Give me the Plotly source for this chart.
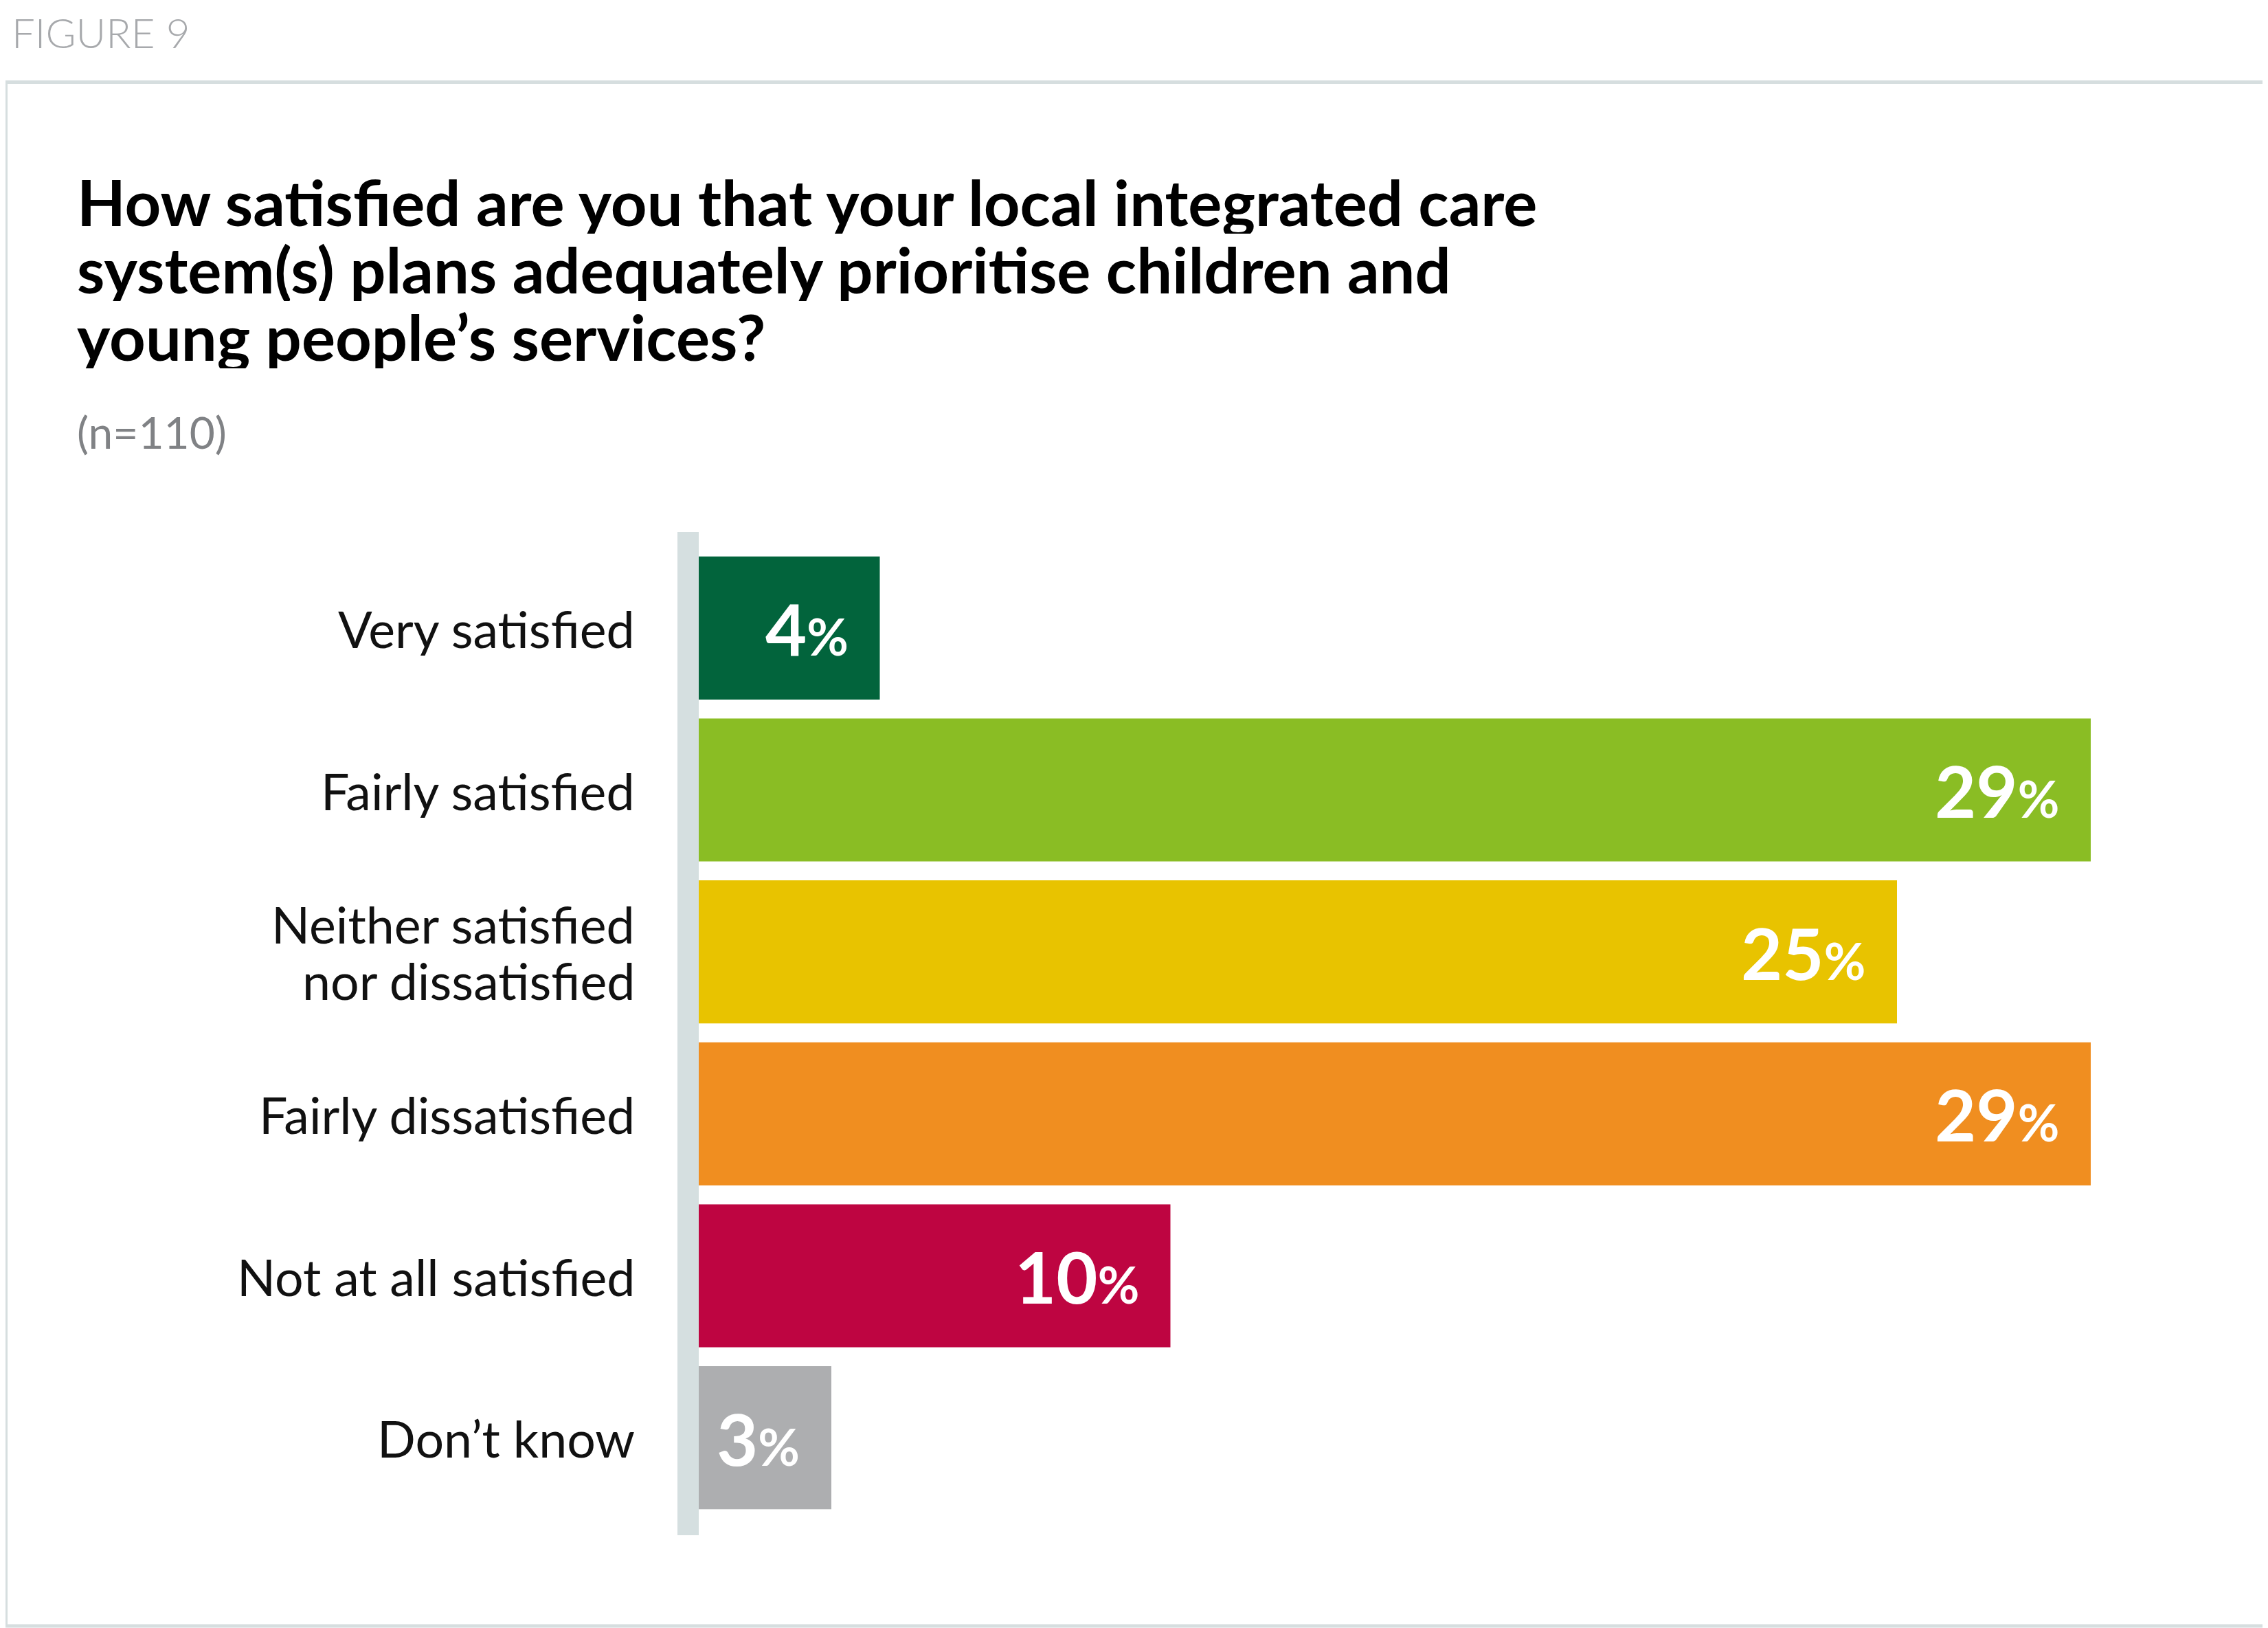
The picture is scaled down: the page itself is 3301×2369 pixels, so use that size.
import plotly.graph_objects as go

# data
categories = ["Very satisfied", "Fairly satisfied", "Neither satisfied<br>nor dissatisfied",
              "Fairly dissatisfied", "Not at all satisfied", "Don’t know"]
values = [4, 29, 25, 29, 10, 3]
bar_colors = ["#02643c", "#8abd24", "#e8c300", "#f08e20", "#be0541", "#adaeb0"]

title_lines = ["How satisfied are you that your local integrated care",
               "system(s) plans adequately prioritise children and",
               "young people’s services?"]
subtitle = "(n=110)"
figure_label = "FIGURE 9"

# page is 3301x2369, the browser puts the plot 8px in from the top/left
OFF = 8
W = 3301 - OFF
H = 2369 - OFF

def px(x):
    return (x - OFF) / W

def py(y):
    return 1 - (y - OFF) / H

FONT = "Lato, 'Open Sans', sans-serif"

figure = go.Figure()
figure.add_trace(go.Bar(
    x=values, y=categories, orientation="h",
    marker=dict(color=bar_colors, line=dict(width=0)),
    width=0.883, hoverinfo="skip"))

annotations = []

# value labels inside the bars
for cat, v in zip(categories, values):
    annotations.append(dict(
        x=v, y=cat, xref="x", yref="y", xanchor="right", yanchor="middle",
        xshift=-44, yshift=0, showarrow=False,
        text="<b>%d</b><span style='font-size:74px'><b>%%</b></span>" % v,
        font=dict(family=FONT, size=104, color="white")))

# category labels (multi line ones get tighter spacing)
for cat in categories:
    lines = cat.split("<br>")
    n = len(lines)
    for i, line in enumerate(lines):
        annotations.append(dict(
            x=0, y=cat, xref="x", yref="y", xanchor="right", yanchor="middle",
            xshift=-(998.5 - 926), yshift=(n - 1) * 41 - i * 82,
            showarrow=False, text=line, height=80, valign="middle",
            font=dict(family=FONT, size=73.5, color="#111111")))

# title, tight leading like the original
for i, line in enumerate(title_lines):
    annotations.append(dict(
        x=px(110), y=py(293 + i * 98), xref="paper", yref="paper",
        xanchor="left", yanchor="middle", showarrow=False,
        text="<b>" + line + "</b>", height=94, valign="middle",
        font=dict(family=FONT, size=92, color="#000000")))

annotations.append(dict(
    x=px(110), y=py(628), xref="paper", yref="paper",
    xanchor="left", yanchor="middle", showarrow=False, text=subtitle,
    font=dict(family=FONT, size=64, color="#808285")))

annotations.append(dict(
    x=px(16), y=py(OFF + 2), xref="paper", yref="paper",
    xanchor="left", yanchor="top", showarrow=False, text=figure_label,
    borderpad=0,
    font=dict(family=FONT, size=60, color="#a7a9ac", weight=300)))

shapes = [
    # frame
    dict(type="rect", xref="paper", yref="paper",
         x0=px(OFF + 0.5), x1=px(3298.5), y0=py(2366), y1=py(119.5),
         line=dict(color="#d6dedf", width=5), fillcolor="rgba(0,0,0,0)", layer="below"),
    # axis band
    dict(type="rect", xref="paper", yref="paper",
         x0=px(986), x1=px(1017), y0=py(2234), y1=py(774),
         line=dict(width=0), fillcolor="#d5dfe0", layer="above"),
]

figure.update_layout(
    width=W, height=H, autosize=False,
    margin=dict(l=0, r=0, t=0, b=0),
    paper_bgcolor="white", plot_bgcolor="white",
    showlegend=False,
    xaxis=dict(domain=[px(998.5), px(3043)], range=[0, 29], visible=False, fixedrange=True),
    yaxis=dict(domain=[py(2210), py(796)], range=[5.5, -0.5], type="category",
               showticklabels=False, showgrid=False, zeroline=False, fixedrange=True),
    annotations=annotations, shapes=shapes,
    font=dict(family=FONT),
)

figure.write_html("out.html")
